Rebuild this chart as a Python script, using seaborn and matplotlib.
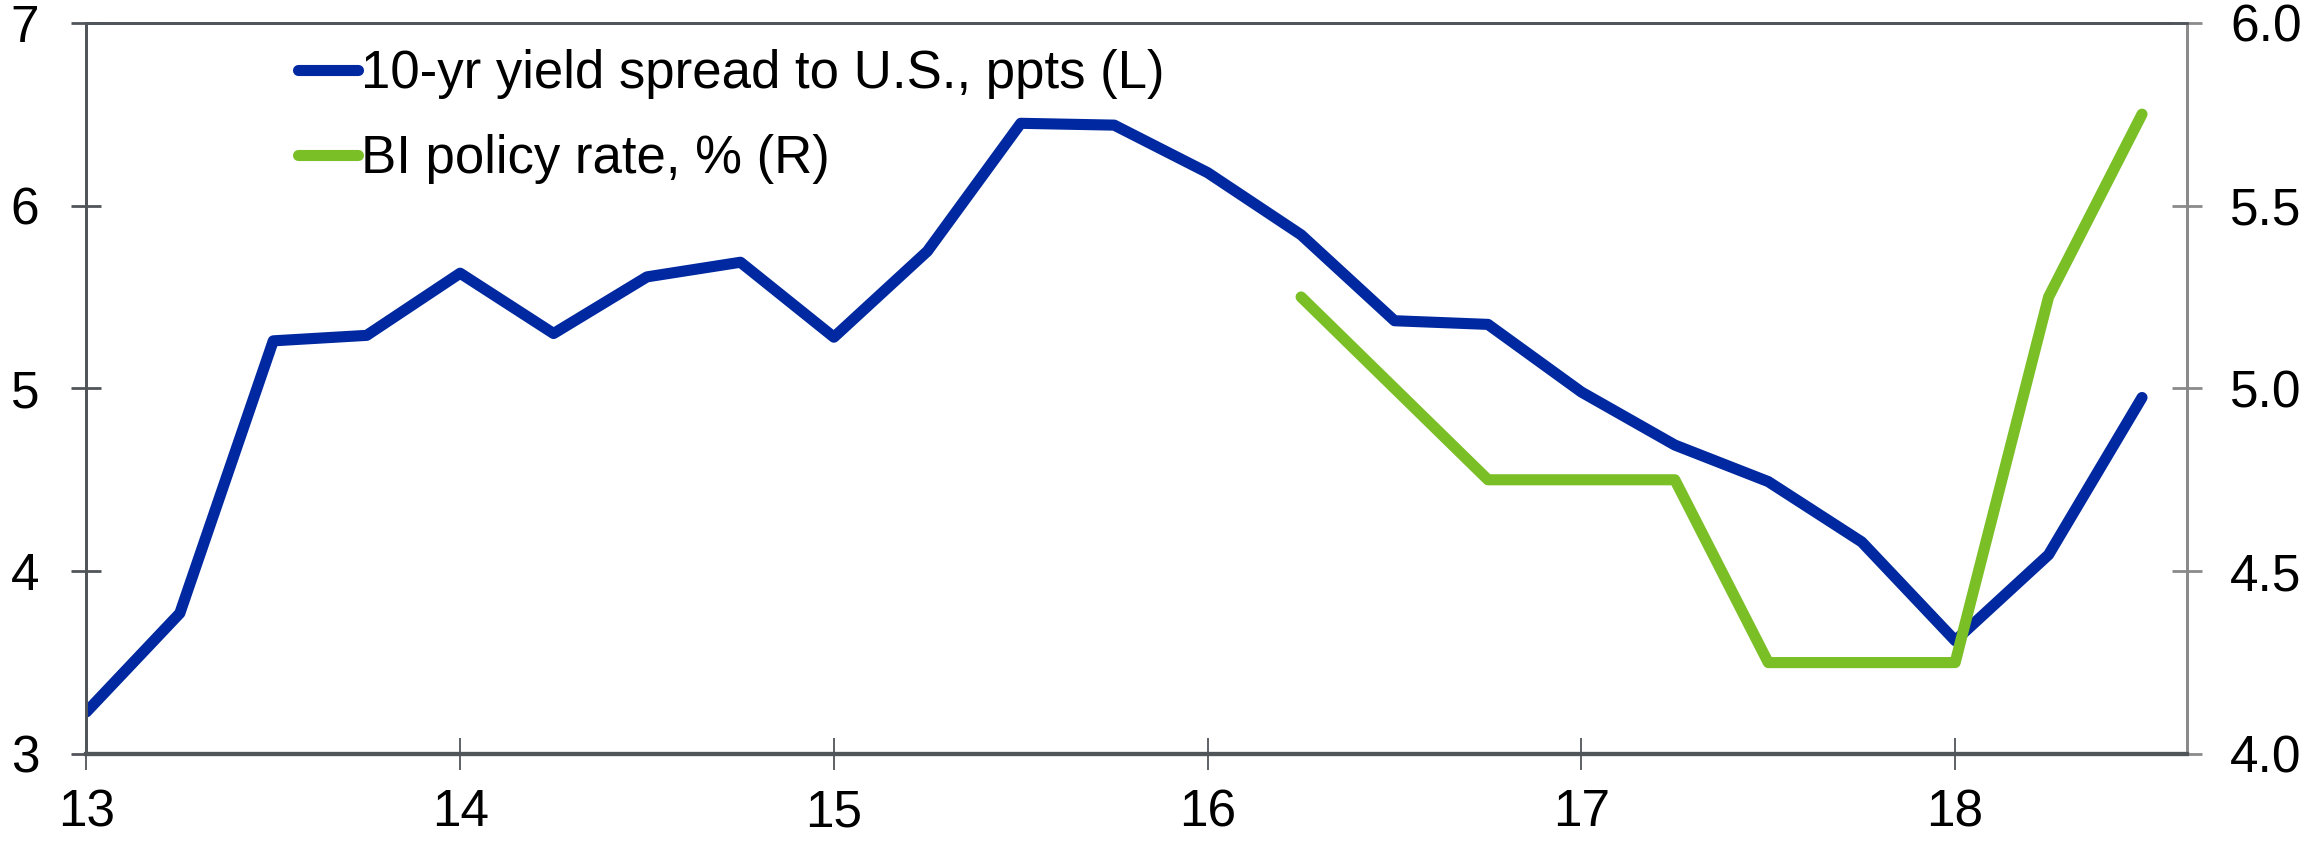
import numpy as np
import pandas as pd
import seaborn as sns
import matplotlib.pyplot as plt
from matplotlib.lines import Line2D

# quarterly dates as fractional years (13 = 2013)
quarters = [13.0, 13.25, 13.5, 13.75, 14.0, 14.25, 14.5, 14.75, 15.0, 15.25, 15.5, 15.75,
            16.0, 16.25, 16.5, 16.75, 17.0, 17.25, 17.5, 17.75, 18.0, 18.25, 18.5]
spread = [3.23, 3.77, 5.26, 5.29, 5.63, 5.30, 5.61, 5.69, 5.28, 5.75, 6.45, 6.44,
          6.18, 5.84, 5.37, 5.35, 4.98, 4.69, 4.49, 4.16, 3.62, 4.09, 4.95]

policy_quarters = [16.25, 16.5, 16.75, 17.0, 17.25, 17.5, 17.75, 18.0, 18.25, 18.5]
policy_rate = [5.25, 5.0, 4.75, 4.75, 4.75, 4.25, 4.25, 4.25, 5.25, 5.75]

labels = ['10-yr yield spread to U.S., ppts (L)', 'BI policy rate, % (R)']
blue = '#0028A0'
green = '#7BBF26'

sns.set_style('white')
plt.rcParams['font.family'] = ['Liberation Sans', 'DejaVu Sans']

df_l = pd.DataFrame({'date': quarters, 'value': spread})
df_r = pd.DataFrame({'date': policy_quarters, 'value': policy_rate})

fig = plt.figure(figsize=(23.1, 8.43), dpi=100)
ax = fig.add_axes([0.0374, 0.1056, 0.9093, 0.8674])
ax2 = ax.twinx()

lw = 8
sns.lineplot(data=df_l, x='date', y='value', ax=ax, color=blue, linewidth=lw,
             solid_capstyle='round', solid_joinstyle='round')
sns.lineplot(data=df_r, x='date', y='value', ax=ax2, color=green, linewidth=lw,
             solid_capstyle='round', solid_joinstyle='round')

ax.set_xlim(13, 18.62)
ax.set_ylim(3, 7)
ax2.set_ylim(4, 6)
ax.set_xticks([13, 14, 15, 16, 17, 18])
ax.set_xticklabels(['13', '14', '15', '16', '17', '18'])
ax.set_yticks([3, 4, 5, 6, 7])
ax2.set_yticks([4.0, 4.5, 5.0, 5.5, 6.0])
ax2.set_yticklabels(['4.0', '4.5', '5.0', '5.5', '6.0'])
for a in (ax, ax2):
    a.set_xlabel('')
    a.set_ylabel('')

gray = '#50555a'
for a in (ax, ax2):
    for s in a.spines.values():
        s.set_color(gray)
        s.set_linewidth(2)
    a.spines['bottom'].set_linewidth(3)
    a.spines['right'].set_color('#8a8a8a')
ax.tick_params(axis='x', direction='inout', length=23, width=1.3, color=gray,
               labelsize=37, pad=13, bottom=True, labelcolor='black')
ax.tick_params(axis='y', direction='inout', length=22, width=2, color=gray,
               labelsize=37, pad=23, left=True, labelcolor='black')
ax2.tick_params(axis='y', direction='inout', length=22, width=2, color='#8a8a8a',
                labelsize=37, pad=20, right=True, labelcolor='black')

handles = [Line2D([], [], color=blue, linewidth=lw, solid_capstyle='round'),
           Line2D([], [], color=green, linewidth=lw, solid_capstyle='round')]
ax.legend(handles, labels, loc='upper left', bbox_to_anchor=(0.088, 1.0), frameon=False,
          fontsize=38, handlelength=1.15, handletextpad=0.06, labelspacing=0.66,
          borderaxespad=0.1, labelcolor='black')

fig.savefig('out.png', dpi=100)
